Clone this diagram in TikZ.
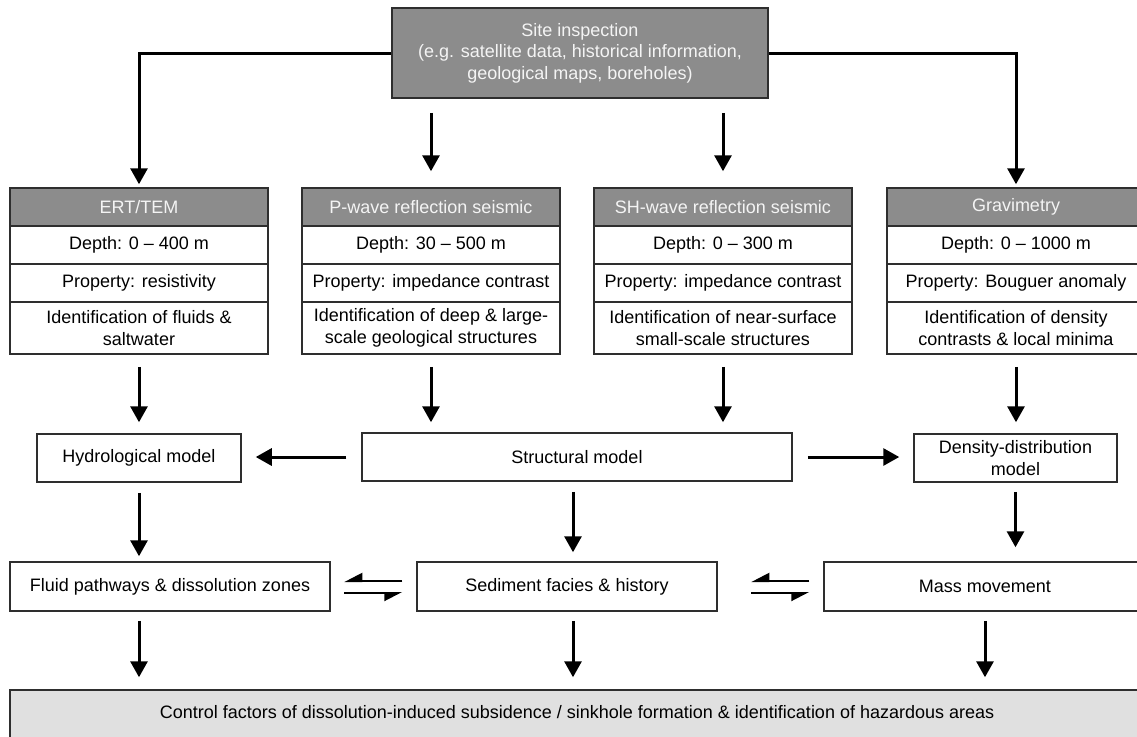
\documentclass[tikz,border=0pt]{standalone}
\usepackage{fontspec}
\setmainfont{Liberation Sans}
\usetikzlibrary{arrows.meta,calc}
\definecolor{hdr}{HTML}{8C8C8C}
\definecolor{hdrtext}{HTML}{F4F4F4}
\definecolor{bottomfill}{HTML}{E0E0E0}
\definecolor{edge}{HTML}{2E2E2E}
\newcommand\methodcol[6]{%
  \node[hbox, minimum width=129pt, minimum height=19pt] (#1h) at (#2,207) {#3};
  \node[box, minimum width=129pt, minimum height=19pt] (#1d) at (#2,245) {#4};
  \node[box, minimum width=129pt, minimum height=19pt] (#1p) at (#2,283) {#5};
  \node[box, minimum width=129pt, minimum height=26pt] (#1i) at (#2,328) {#6};
}
\begin{document}
\begin{tikzpicture}[x=0.5pt,y=-0.5pt,
  font=\fontsize{9}{10.8}\selectfont,
  box/.style={draw=edge, line width=0.75pt, inner sep=0pt, align=center, anchor=center},
  hbox/.style={box, fill=hdr, text=hdrtext},
  arr/.style={line width=1.5pt, -{Triangle[width=8.5pt,length=8pt]}},
  harpL/.style={line width=1pt, -{Triangle[width=8pt,length=8pt,harpoon,swap]}},
]
\useasboundingbox (0,0) rectangle (1137,736);
\clip (0,0) rectangle (1137,736);

% top box
\node[hbox, minimum width=188pt, minimum height=45pt] (site) at (580,53)
  {Site inspection\\(e.g. satellite data, historical information,\\geological maps, boreholes)};

% method columns
\methodcol{ert}{139}{ERT/TEM}{Depth: 0 -- 400 m}{Property: resistivity}{Identification of fluids \&\\saltwater}
\methodcol{pw}{431}{P-wave reflection seismic}{Depth: 30 -- 500 m}{Property: impedance contrast}{Identification of deep \& large-\\scale geological structures}
\methodcol{sh}{723}{SH-wave reflection seismic}{Depth: 0 -- 300 m}{Property: impedance contrast}{Identification of near-surface\\small-scale structures}
\methodcol{gr}{1016}{Gravimetry}{Depth: 0 -- 1000 m}{Property: Bouguer anomaly}{Identification of density\\contrasts \& local minima}

% models
\node[box, minimum width=102pt, minimum height=24pt] (hydro) at (139,458) {Hydrological model};
\node[box, minimum width=215pt, minimum height=24pt] (struct) at (577,457) {Structural model};
\node[box, minimum width=101.5pt, minimum height=24pt] (dens) at (1015.5,458) {Density-distribution\\model};

% processes
\node[box, minimum width=160pt, minimum height=24.5pt] (fluid) at (170,586.5) {Fluid pathways \& dissolution zones};
\node[box, minimum width=150pt, minimum height=24.5pt] (sed) at (567,586.5) {Sediment facies \& history};
\node[box, minimum width=161pt, minimum height=24.5pt] (mass) at (985,586.5) {Mass movement};

% bottom box
\node[box, fill=bottomfill, minimum width=570pt, minimum height=35pt] (ctrl) at (580,725) {};
\node[inner sep=0pt] (ctrltext) at (577,712) {Control factors of dissolution-induced subsidence / sinkhole formation \& identification of hazardous areas};

% connectors from site inspection
\draw[arr, shorten >=1.5pt] (site.west) -| (erth.north);
\draw[arr, shorten >=1.5pt] (site.east) -| (grh.north);
\draw[arr, shorten <=7pt, shorten >=8pt] (site.south -| pwh.north) -- (pwh.north);
\draw[arr, shorten <=7pt, shorten >=8pt] (site.south -| shh.north) -- (shh.north);

% columns to models
\draw[arr, shorten <=6pt, shorten >=5.5pt] (erti.south) -- (erti.south |- hydro.north);
\draw[arr, shorten <=6pt, shorten >=5pt] (pwi.south) -- (pwi.south |- struct.north);
\draw[arr, shorten <=6pt, shorten >=5pt] (shi.south) -- (shi.south |- struct.north);
\draw[arr, shorten <=6pt, shorten >=5.5pt] (gri.south) -- (gri.south |- dens.north);

% structural to side models
\draw[arr, shorten <=7.5pt, shorten >=7pt] (struct.west) -- (struct.west -| hydro.east);
\draw[arr, shorten <=7.5pt, shorten >=7pt] (struct.east) -- (struct.east -| dens.west);

% models to processes
\draw[arr, shorten <=5pt, shorten >=2.5pt] (hydro.south) -- (hydro.south |- fluid.north);
\draw[arr, shorten <=5pt, shorten >=4.5pt] ($(struct.south)+(-4,0)$) -- ($(struct.south |- sed.north)+(-4,0)$);
\draw[arr, shorten <=4.5pt, shorten >=7pt] (dens.south) -- (dens.south |- mass.north);

% equilibrium harpoons
\draw[harpL] ($(sed.west)+(-14,-5.5)$) -- ($(sed.west)+(-72,-5.5)$);
\draw[harpL] ($(sed.west)+(-72,6.5)$) -- ($(sed.west)+(-14,6.5)$);
\draw[harpL] ($(mass.west)+(-14,-5.5)$) -- ($(mass.west)+(-72,-5.5)$);
\draw[harpL] ($(mass.west)+(-72,6.5)$) -- ($(mass.west)+(-14,6.5)$);

% processes to control factors
\draw[arr, shorten <=4.5pt, shorten >=6pt] (fluid.south -| hydro.south) -- (ctrl.north -| hydro.south);
\draw[arr, shorten <=4.5pt, shorten >=6pt] ($(sed.south)+(6,0)$) -- ($(ctrl.north -| sed.south)+(6,0)$);
\draw[arr, shorten <=4.5pt, shorten >=6pt] (mass.south) -- (ctrl.north -| mass.south);
\end{tikzpicture}
\end{document}
